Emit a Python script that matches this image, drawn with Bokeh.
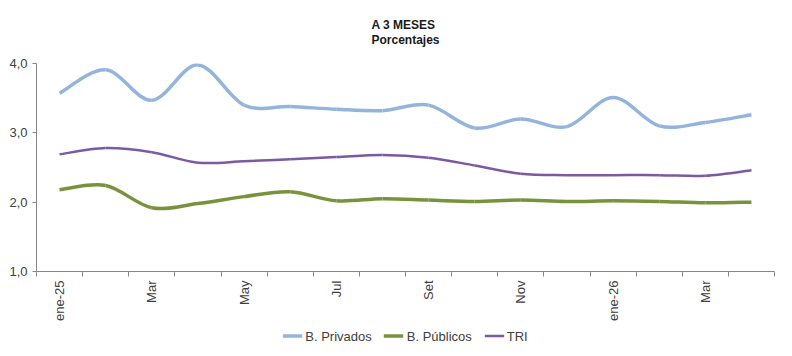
import math
from bokeh.plotting import figure
from bokeh.layouts import column
from bokeh.models import Range1d, FixedTicker, Legend, LegendItem, ColumnDataSource
from bokeh.embed import file_html
from bokeh.resources import INLINE

# ---- data ----
months = ["ene-25", "feb-25", "mar-25", "abr-25", "may-25", "jun-25", "jul-25", "ago-25",
          "set-25", "oct-25", "nov-25", "dic-25", "ene-26", "feb-26", "mar-26", "abr-26"]
tick_labels = ["ene-25", "Mar", "May", "Jul", "Set", "Nov", "ene-26", "Mar"]
privados = [3.57, 3.91, 3.47, 3.98, 3.40, 3.38, 3.34, 3.32, 3.40, 3.07, 3.20, 3.09, 3.51, 3.10, 3.15, 3.26]
publicos = [2.18, 2.24, 1.92, 1.98, 2.08, 2.15, 2.02, 2.05, 2.03, 2.01, 2.03, 2.01, 2.02, 2.01, 1.99, 2.00]
tri = [2.69, 2.78, 2.72, 2.57, 2.59, 2.62, 2.65, 2.68, 2.64, 2.53, 2.41, 2.39, 2.39, 2.39, 2.38, 2.46]
series_names = ["B. Privados", "B. Públicos", "TRI"]
y_ticks = [1, 2, 3, 4]
y_tick_labels = ["1,0", "2,0", "3,0", "4,0"]

FONT = "Liberation Sans"
TXT = "#404040"
COLORS = ["#93B4DC", "#77933C", "#7B59A4"]
WIDTHS = [3.5, 3.5, 2.5]

n = len(months)
xs = [i + 0.5 for i in range(n)]


def smooth_source(ys):
    """Catmull-Rom style cubic bezier segments through every data point (Excel 'smoothed line')."""
    d = dict(x0=[], y0=[], x1=[], y1=[], cx0=[], cy0=[], cx1=[], cy1=[])
    for i in range(n - 1):
        pm = i - 1 if i > 0 else i
        pp = i + 2 if i + 2 < n else i + 1
        d["x0"].append(xs[i]); d["y0"].append(ys[i])
        d["x1"].append(xs[i + 1]); d["y1"].append(ys[i + 1])
        d["cx0"].append(xs[i] + (xs[i + 1] - xs[pm]) / 6)
        d["cy0"].append(ys[i] + (ys[i + 1] - ys[pm]) / 6)
        d["cx1"].append(xs[i + 1] - (xs[pp] - xs[i]) / 6)
        d["cy1"].append(ys[i + 1] - (ys[pp] - ys[i]) / 6)
    return ColumnDataSource(d)


p = figure(frame_width=738, frame_height=208, output_backend="svg", toolbar_location=None,
           x_range=Range1d(0, n), y_range=Range1d(1, 4),
           min_border_left=36, min_border_right=2, min_border_top=54, min_border_bottom=52)
p.outline_line_color = None
p.xgrid.visible = False
p.ygrid.visible = False
p.background_fill_color = "white"

p.title.text = "A 3 MESES\nPorcentajes"
p.title.align = "center"
p.title.text_font = FONT
p.title.text_font_size = "12px"
p.title.text_font_style = "bold"
p.title.text_color = "#1a1a1a"
p.title.text_line_height = 1.1
p.title.standoff = 32

all_series = [privados, publicos, tri]
for ys, color, w in zip(all_series, COLORS, WIDTHS):
    p.bezier(x0="x0", y0="y0", x1="x1", y1="y1", cx0="cx0", cy0="cy0", cx1="cx1", cy1="cy1",
             source=smooth_source(ys), line_color=color, line_width=w)

# x axis: boundary ticks as minor ticks, labels at month centres
xa = p.xaxis[0]
xa.ticker = FixedTicker(ticks=[xs[i] for i in range(0, n, 2)], minor_ticks=list(range(n + 1)))
xa.major_label_overrides = {xs[i * 2]: lab for i, lab in enumerate(tick_labels)}
xa.major_label_orientation = math.pi / 2
xa.major_tick_line_color = None
xa.minor_tick_in = 0
xa.minor_tick_out = 5
xa.minor_tick_line_color = "#868686"
xa.axis_line_color = "#868686"
xa.major_label_text_font = FONT
xa.major_label_text_font_size = "13px"
xa.major_label_text_color = TXT
xa.major_label_standoff = 3

ya = p.yaxis[0]
ya.ticker = FixedTicker(ticks=y_ticks, minor_ticks=[])
ya.major_label_overrides = {t: l for t, l in zip(y_ticks, y_tick_labels)}
ya.major_tick_in = 0
ya.major_tick_out = 4
ya.major_tick_line_color = "#868686"
ya.axis_line_color = "#868686"
ya.major_label_text_font = FONT
ya.major_label_text_font_size = "13px"
ya.major_label_text_color = TXT
ya.major_label_standoff = 5

# legend strip below the chart (one-point lines: nothing visible, only legend swatches)
leg = figure(width=776, height=25, output_backend="svg", toolbar_location=None,
             x_range=Range1d(0, 1), y_range=Range1d(0, 1),
             x_axis_location=None, y_axis_location=None,
             min_border_left=0, min_border_right=0, min_border_top=0, min_border_bottom=0)
leg.outline_line_color = None
leg.xgrid.visible = False
leg.ygrid.visible = False
items = []
for name, ys, color, w in zip(series_names, all_series, COLORS, WIDTHS):
    r = leg.line(x=[xs[0]], y=[ys[0]], line_color=color, line_width=w)
    items.append(LegendItem(label=name, renderers=[r]))
legend = Legend(items=items, orientation="horizontal", location="center",
                label_text_font=FONT, label_text_font_size="13px", label_text_color=TXT,
                glyph_width=20, glyph_height=14, label_standoff=3, spacing=12,
                padding=0, margin=0, border_line_color=None, background_fill_alpha=0)
leg.add_layout(legend)

open("out.html", "w").write(file_html(column(p, leg, spacing=0), INLINE))
